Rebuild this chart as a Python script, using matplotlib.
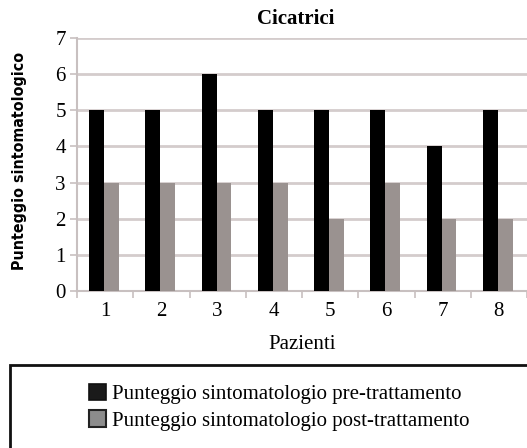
import matplotlib
matplotlib.use("Agg")
import matplotlib.pyplot as plt
import numpy as np
from matplotlib.patches import Patch, Rectangle

categories = ["1", "2", "3", "4", "5", "6", "7", "8"]
pre_values = [5, 5, 6, 5, 5, 5, 4, 5]
post_values = [3, 3, 3, 3, 2, 3, 2, 2]
series_labels = ["Punteggio sintomatologio pre-trattamento",
                 "Punteggio sintomatologio post-trattamento"]
y_ticks = [0, 1, 2, 3, 4, 5, 6, 7]

W, H = 527, 448
fig = plt.figure(figsize=(W / 100, H / 100), dpi=100)
ax = fig.add_axes([77 / W, 1 - 291 / H, (W - 77) / W, (291 - 38) / H])

serif = "Liberation Serif"
fs = 15
x = np.arange(1, len(categories) + 1)
bw = 0.265
ax.bar(x - bw / 2 - 0.02, pre_values, bw, color="#000000", zorder=3)
ax.bar(x + bw / 2 - 0.02, post_values, bw, color="#9a9290", zorder=3)

ax.set_xlim(0.5, 0.5 + (W - 77) / 56.9)
ax.set_ylim(0, 7)
ax.set_yticks(y_ticks)
ax.set_yticklabels([str(v) for v in y_ticks], fontfamily=serif, fontsize=fs)
ax.set_xticks(x)
ax.set_xticklabels(categories, fontfamily=serif, fontsize=fs)
ax.set_xticks(np.arange(0.5, len(categories) + 1, 1), minor=True)
ax.tick_params(axis="x", which="major", length=0, pad=8)
ax.tick_params(axis="x", which="minor", length=5, width=1.2, color="#c8c0c0")
ax.tick_params(axis="y", length=5, width=1.2, color="#c8c0c0", pad=3)

ax.grid(axis="y", color="#d4cccc", linewidth=2, zorder=0)
for s in ["top", "right"]:
    ax.spines[s].set_visible(False)
ax.spines["left"].set_color("#c8c0c0")
ax.spines["left"].set_linewidth(1.5)
ax.spines["bottom"].set_color("#c8c0c0")
ax.spines["bottom"].set_linewidth(1.5)

ax.set_xlabel("Pazienti", fontfamily=serif, fontsize=fs, labelpad=10)
fig.text(20 / W, 1 - 161 / H, "Punteggio sintomatologico", rotation=90,
         ha="center", va="center", fontfamily="DejaVu Sans", fontweight="bold",
         fontstretch="condensed", fontsize=11.4)
fig.text(296 / W, 1 - 19 / H, "Cicatrici", ha="center", va="center",
         fontfamily=serif, fontweight="bold", fontsize=fs)

# legend box
fig.patches.append(Rectangle((10 / W, -0.05), 1.0, (1 - 365 / H) + 0.05,
                             transform=fig.transFigure, fill=False,
                             edgecolor="#111111", linewidth=2, clip_on=False))
handles = [Patch(facecolor="#1a1a1a", edgecolor="#111111", linewidth=1.2),
           Patch(facecolor="#8c8c8c", edgecolor="#222222", linewidth=1.5)]
fig.legend(handles, series_labels, loc="upper left",
           bbox_to_anchor=(74 / W, 1 - 369 / H), frameon=False,
           prop={"family": serif, "size": fs}, handlelength=0.85,
           handleheight=0.85, handletextpad=0.25, labelspacing=0.3,
           borderpad=0.2)

fig.savefig("out.png", dpi=100)
